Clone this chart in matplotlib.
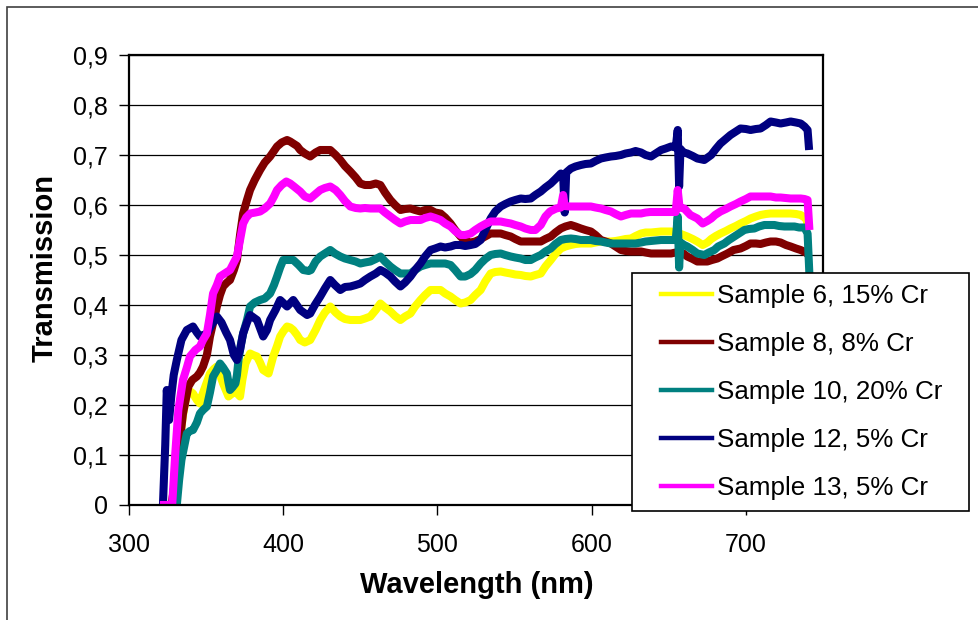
import matplotlib
matplotlib.use('Agg')
import matplotlib.pyplot as plt
from matplotlib.patches import Rectangle
from matplotlib.lines import Line2D
from matplotlib.ticker import FuncFormatter

plt.rcParams['font.family'] = ['Liberation Sans', 'DejaVu Sans']

# transmission spectra, wavelength in nm
wl_s6 = [320, 329, 331, 333, 335, 337, 338.5, 341.5, 344, 346, 347.5, 349.5, 351, 352.5, 355, 357, 359, 361, 363, 364.5,
         366.5, 369, 370.5, 372, 373.5, 375.5, 378.5, 380.5, 383, 385, 387, 390.5, 392, 393.5, 396, 398, 400, 402.5,
         404.5, 406.5, 409, 411, 414, 417.5, 421, 424, 427, 430.5, 434, 437, 440, 443.5, 447, 450, 453, 456.5, 460,
         463, 466, 469.5, 472.5, 476, 479, 482.5, 485.5, 489, 492, 495.5, 498.5, 502, 505, 508.5, 511.5, 515, 518,
         521.5, 524.5, 528, 531, 534.5, 537.5, 541, 544, 547.5, 550.5, 554, 557, 560.5, 563.5, 567, 570, 573.5, 576.5,
         580, 583, 586.5, 589.5, 593, 596, 599.5, 602.5, 606, 609, 612.5, 615.5, 619, 622, 625.5, 628.5, 632, 635,
         638.5, 641.5, 645, 648, 651.5, 654.5, 657, 659.5, 662, 665.5, 668.5, 672, 675, 677.5, 680.5, 683.5, 687, 690,
         693.5, 696.5, 700, 703, 706.5, 709.5, 713, 716, 719.5, 722.5, 726, 729, 732.5, 735.5, 738, 739.5, 740.5]
tr_s6 = [0, 0, 0.07, 0.13, 0.18, 0.215, 0.23, 0.223, 0.21, 0.203, 0.22, 0.237, 0.25, 0.263, 0.272, 0.277, 0.26, 0.243,
         0.228, 0.217, 0.222, 0.23, 0.222, 0.217, 0.25, 0.283, 0.303, 0.30, 0.297, 0.285, 0.27, 0.263, 0.28, 0.297,
         0.318, 0.337, 0.347, 0.357, 0.355, 0.35, 0.34, 0.33, 0.325, 0.33, 0.35, 0.37, 0.385, 0.397, 0.385, 0.377,
         0.372, 0.37, 0.37, 0.37, 0.373, 0.377, 0.39, 0.403, 0.395, 0.387, 0.378, 0.37, 0.377, 0.383, 0.397, 0.41,
         0.42, 0.43, 0.43, 0.43, 0.423, 0.417, 0.41, 0.403, 0.405, 0.41, 0.42, 0.43, 0.447, 0.463, 0.466, 0.467, 0.465,
         0.463, 0.461, 0.46, 0.458, 0.457, 0.46, 0.463, 0.477, 0.49, 0.502, 0.513, 0.517, 0.52, 0.522, 0.523, 0.523,
         0.523, 0.525, 0.527, 0.527, 0.527, 0.528, 0.53, 0.532, 0.533, 0.538, 0.543, 0.545, 0.545, 0.546, 0.547, 0.547,
         0.547, 0.545, 0.543, 0.54, 0.537, 0.532, 0.527, 0.52, 0.525, 0.532, 0.538, 0.543, 0.548, 0.553, 0.558, 0.563,
         0.568, 0.573, 0.577, 0.58, 0.582, 0.583, 0.583, 0.583, 0.583, 0.583, 0.582, 0.58, 0.575, 0.57, 0.55]

wl_s8 = [320, 327.5, 330, 332, 335, 338.5, 341, 344, 346, 348, 350.5, 352.5, 355, 357, 359, 361, 363.5, 365.5, 368,
         370, 372, 374, 376.5, 378.5, 381.5, 385, 388, 391.5, 394, 396, 399, 402.5, 404.5, 406.5, 409, 411, 414,
         417.5, 421, 424, 427, 430.5, 434, 437, 440, 443.5, 447, 450, 453, 456.5, 460, 463, 466, 469.5, 472.5, 476,
         479, 482.5, 485.5, 489, 492, 495.5, 498.5, 502, 505, 508.5, 511.5, 515, 518, 521.5, 524.5, 528, 531, 534.5,
         537.5, 541, 544, 547.5, 550.5, 554, 557, 560.5, 563.5, 567, 570, 573.5, 576.5, 580, 583, 586.5, 589.5, 593,
         596, 599.5, 602.5, 606, 609, 612.5, 615.5, 619, 622, 625.5, 628.5, 632, 635, 638.5, 641.5, 645, 648, 651.5,
         654.5, 656.5, 659.5, 662, 665.5, 668.5, 672, 675, 678, 681.5, 684, 688, 692, 696.5, 700, 703, 706.5, 709.5,
         713, 716, 719.5, 722.5, 726, 729, 732.5, 735.5, 739, 740.5]
tr_s8 = [0, 0, 0.05, 0.103, 0.183, 0.237, 0.25, 0.257, 0.265, 0.277, 0.30, 0.337, 0.37, 0.397, 0.42, 0.437, 0.445,
         0.45, 0.47, 0.49, 0.54, 0.583, 0.61, 0.63, 0.65, 0.67, 0.685, 0.697, 0.708, 0.717, 0.725, 0.73, 0.727, 0.723,
         0.718, 0.71, 0.703, 0.697, 0.705, 0.71, 0.71, 0.71, 0.70, 0.69, 0.678, 0.667, 0.655, 0.643, 0.64, 0.64, 0.643,
         0.64, 0.625, 0.61, 0.60, 0.59, 0.592, 0.593, 0.59, 0.587, 0.59, 0.59, 0.585, 0.583, 0.575, 0.563, 0.55, 0.537,
         0.528, 0.525, 0.527, 0.532, 0.537, 0.543, 0.543, 0.543, 0.54, 0.537, 0.532, 0.527, 0.527, 0.527, 0.527, 0.527,
         0.532, 0.537, 0.545, 0.553, 0.557, 0.56, 0.557, 0.553, 0.55, 0.547, 0.54, 0.53, 0.527, 0.523, 0.517, 0.51,
         0.508, 0.507, 0.507, 0.507, 0.505, 0.503, 0.503, 0.503, 0.503, 0.503, 0.505, 0.507, 0.503, 0.497, 0.492,
         0.487, 0.487, 0.487, 0.49, 0.493, 0.497, 0.503, 0.51, 0.513, 0.518, 0.523, 0.523, 0.522, 0.525, 0.527, 0.527,
         0.525, 0.52, 0.517, 0.513, 0.51, 0.505, 0.50]

wl_s10 = [320, 331, 332.5, 334, 336, 337.5, 339.5, 341.5, 344, 346, 348, 350.5, 352.5, 354.5, 357, 359, 361, 363.5,
          364.5, 365.5, 367, 369, 370, 371, 372.5, 374, 376.5, 378.5, 381.5, 385, 388, 391.5, 394, 396, 398, 400,
          403.5, 406.5, 410, 413, 416.5, 418, 421, 424, 427, 430.5, 433.5, 437, 440, 443.5, 447, 450, 453, 456.5, 460,
          463, 466, 469.5, 472.5, 476, 479, 482.5, 485.5, 489, 492, 495.5, 498.5, 502, 505, 508.5, 511.5, 515, 518,
          521.5, 524.5, 528, 531, 534.5, 537.5, 541, 544, 547.5, 550.5, 554, 557, 560.5, 563.5, 567, 570, 573.5,
          576.5, 580, 583, 586.5, 589.5, 593, 596, 599.5, 602.5, 606, 609, 612.5, 615.5, 619, 622, 625.5, 628.5, 632,
          635, 638.5, 641.5, 645, 648, 651.5, 654.5, 655.8, 656.7, 657.6, 660, 662, 665.5, 668.5, 673, 676, 679.5,
          682, 686, 689, 692.5, 695.5, 699, 702, 705.5, 708.5, 712, 715, 718.5, 721.5, 725, 728, 731.5, 734.5, 738,
          740, 741.2]
tr_s10 = [0, 0, 0.05, 0.09, 0.12, 0.143, 0.148, 0.15, 0.165, 0.183, 0.19, 0.197, 0.225, 0.257, 0.27, 0.283, 0.275,
          0.263, 0.245, 0.23, 0.235, 0.243, 0.26, 0.29, 0.32, 0.343, 0.37, 0.397, 0.405, 0.41, 0.413, 0.423, 0.44,
          0.457, 0.475, 0.49, 0.49, 0.49, 0.48, 0.47, 0.468, 0.47, 0.487, 0.497, 0.503, 0.51, 0.503, 0.497, 0.493,
          0.49, 0.487, 0.483, 0.485, 0.487, 0.492, 0.497, 0.487, 0.477, 0.47, 0.463, 0.463, 0.463, 0.47, 0.477, 0.48,
          0.483, 0.483, 0.483, 0.483, 0.48, 0.47, 0.457, 0.457, 0.462, 0.47, 0.483, 0.492, 0.50, 0.502, 0.503, 0.50,
          0.497, 0.495, 0.493, 0.49, 0.49, 0.495, 0.50, 0.507, 0.513, 0.522, 0.53, 0.532, 0.533, 0.532, 0.53, 0.53,
          0.53, 0.528, 0.527, 0.525, 0.523, 0.523, 0.523, 0.523, 0.523, 0.523, 0.525, 0.527, 0.528, 0.529, 0.53, 0.53,
          0.53, 0.53, 0.577, 0.475, 0.525, 0.52, 0.517, 0.51, 0.503, 0.50, 0.505, 0.51, 0.517, 0.523, 0.53, 0.537,
          0.543, 0.55, 0.552, 0.553, 0.557, 0.56, 0.56, 0.56, 0.558, 0.557, 0.557, 0.557, 0.555, 0.555, 0.543, 0.46]

wl_s12 = [320, 322, 323.5, 324.5, 326, 327.5, 329, 331, 332.5, 334, 337.5, 341.5, 344, 346, 350.5, 353.5, 357, 360,
          363, 365.5, 368, 370, 372, 374, 376.5, 378.5, 383, 387, 389.5, 391.5, 395, 398, 402.5, 406.5, 411, 415.5,
          417.5, 420.5, 424, 427, 430.5, 433.5, 437, 440, 443.5, 447, 450, 453, 456.5, 460, 463, 466, 469.5, 472.5,
          476, 479, 482.5, 485.5, 489, 492, 495.5, 498.5, 502, 505, 508.5, 511.5, 515, 518, 521.5, 524.5, 528, 531,
          534.5, 537.5, 541, 544, 547.5, 550.5, 554, 557, 560.5, 563.5, 567, 570, 573.5, 576.5, 580, 581.5, 582.5,
          583.5, 586.5, 589.5, 593, 596, 599.5, 602.5, 606, 609, 612.5, 615.5, 619, 622, 625.5, 628.5, 632, 635,
          638.5, 641.5, 645, 648, 651.5, 654.5, 655.8, 656.7, 657.6, 659.5, 662, 665.5, 668.5, 673, 677.5, 680.5,
          683.5, 687, 690, 693.5, 696.5, 700, 703, 706.5, 709.5, 713, 716, 719.5, 722.5, 726, 729, 732.5, 735.5, 738,
          740, 741]
tr_s12 = [0, 0, 0.12, 0.23, 0.17, 0.22, 0.26, 0.29, 0.31, 0.33, 0.35, 0.357, 0.345, 0.337, 0.343, 0.36, 0.377,
          0.365, 0.345, 0.33, 0.30, 0.29, 0.31, 0.343, 0.365, 0.38, 0.37, 0.337, 0.35, 0.37, 0.39, 0.41, 0.397, 0.41,
          0.39, 0.38, 0.383, 0.40, 0.417, 0.433, 0.45, 0.44, 0.43, 0.436, 0.437, 0.44, 0.443, 0.45, 0.457, 0.463,
          0.47, 0.465, 0.457, 0.447, 0.437, 0.445, 0.457, 0.47, 0.483, 0.497, 0.51, 0.513, 0.517, 0.515, 0.517, 0.52,
          0.52, 0.518, 0.52, 0.522, 0.53, 0.55, 0.573, 0.587, 0.597, 0.602, 0.607, 0.61, 0.613, 0.612, 0.613, 0.62,
          0.627, 0.635, 0.643, 0.652, 0.663, 0.66, 0.585, 0.665, 0.673, 0.677, 0.68, 0.682, 0.683, 0.688, 0.693,
          0.695, 0.697, 0.698, 0.70, 0.703, 0.705, 0.708, 0.705, 0.70, 0.697, 0.703, 0.71, 0.713, 0.717, 0.715, 0.75,
          0.637, 0.712, 0.705, 0.703, 0.698, 0.693, 0.69, 0.70, 0.712, 0.723, 0.732, 0.74, 0.747, 0.753, 0.752, 0.75,
          0.752, 0.753, 0.76, 0.767, 0.765, 0.763, 0.765, 0.767, 0.765, 0.763, 0.757, 0.75, 0.71]

wl_s13 = [320, 324, 328, 330, 332, 335, 337.5, 339.5, 343, 346, 348, 350.5, 352.5, 354.5, 357, 359, 362, 365.5, 368,
          370, 372, 374, 376, 378.5, 382, 385, 388, 391.5, 394, 396, 399, 402, 404.5, 407, 411, 414, 417.5, 421, 424,
          427, 430.5, 434, 437, 440, 443.5, 447, 450, 453, 456.5, 460, 463, 466, 469.5, 472.5, 476, 479, 482.5, 485.5,
          489, 492, 495.5, 498.5, 502, 505, 508.5, 511.5, 515, 518, 521.5, 524.5, 528, 531, 534.5, 537.5, 541, 544,
          547.5, 550.5, 554, 557, 560.5, 563.5, 567, 570, 573, 577, 580, 581.5, 582.5, 586, 589.5, 593, 596, 599.5,
          602.5, 606, 609, 612.5, 615.5, 619, 622, 625.5, 628.5, 632, 635, 638, 641, 645, 648, 651.5, 654.5, 655.8,
          657, 660, 664, 668.5, 672, 675, 677.5, 680, 683.5, 687, 690, 693.5, 696.5, 700, 703, 706.5, 709.5, 713, 716,
          719.5, 722.5, 726, 729, 732.5, 735.5, 738, 740, 741.2]
tr_s13 = [0, 0, 0, 0.103, 0.19, 0.25, 0.275, 0.297, 0.31, 0.317, 0.33, 0.343, 0.38, 0.423, 0.44, 0.457, 0.463, 0.47,
          0.485, 0.497, 0.53, 0.563, 0.575, 0.583, 0.585, 0.587, 0.593, 0.603, 0.617, 0.63, 0.64, 0.647, 0.643,
          0.637, 0.627, 0.617, 0.613, 0.622, 0.63, 0.634, 0.637, 0.63, 0.62, 0.608, 0.597, 0.594, 0.593, 0.594, 0.593,
          0.593, 0.593, 0.585, 0.577, 0.57, 0.563, 0.567, 0.57, 0.57, 0.57, 0.574, 0.577, 0.574, 0.57, 0.563, 0.557,
          0.548, 0.54, 0.54, 0.543, 0.55, 0.557, 0.562, 0.567, 0.567, 0.567, 0.565, 0.563, 0.56, 0.557, 0.553, 0.55,
          0.55, 0.56, 0.577, 0.587, 0.593, 0.595, 0.62, 0.598, 0.597, 0.597, 0.597, 0.597, 0.597, 0.595, 0.593, 0.59,
          0.587, 0.582, 0.577, 0.58, 0.583, 0.583, 0.583, 0.585, 0.586, 0.586, 0.586, 0.586, 0.586, 0.586, 0.63,
          0.595, 0.593, 0.58, 0.573, 0.563, 0.568, 0.573, 0.58, 0.587, 0.592, 0.597, 0.602, 0.607, 0.612, 0.617,
          0.617, 0.617, 0.617, 0.617, 0.615, 0.615, 0.614, 0.613, 0.613, 0.613, 0.612, 0.61, 0.55]

series = [
    (wl_s6, tr_s6, '#FFFF00', 'Sample 6, 15% Cr'),
    (wl_s8, tr_s8, '#800000', 'Sample 8, 8% Cr'),
    (wl_s10, tr_s10, '#008080', 'Sample 10, 20% Cr'),
    (wl_s12, tr_s12, '#000080', 'Sample 12, 5% Cr'),
    (wl_s13, tr_s13, '#FF00FF', 'Sample 13, 5% Cr'),
]

W, H = 979, 620
fig = plt.figure(figsize=(W / 100, H / 100), dpi=100)
ax = fig.add_axes([129 / W, 1 - 505 / H, 694 / W, 450 / H])

for wl, tr, col, name in series:
    ax.plot(wl, tr, color=col, lw=5.8, solid_joinstyle='round', solid_capstyle='butt')

ax.set_xlim(300, 750)
ax.set_ylim(0, 0.9)
ax.set_xticks([300, 400, 500, 600, 700])
ax.set_yticks([i / 10 for i in range(10)])
ax.yaxis.set_major_formatter(FuncFormatter(lambda v, p: '0' if v == 0 else f'{v:.1f}'.replace('.', ',')))
ax.grid(axis='y', color='black', lw=0.9)
ax.set_axisbelow(True)
ax.tick_params(axis='both', direction='out', length=7, width=1, labelsize=18, colors='black')
ax.tick_params(axis='y', pad=8)
ax.tick_params(axis='x', pad=13)
for sp in ax.spines.values():
    sp.set_linewidth(1.6)
    sp.set_color('black')

fig.text(477 / W, 1 - 593 / H, 'Wavelength (nm)', ha='center', va='baseline',
         fontsize=21, fontweight='bold')
fig.text(53 / W, 1 - 268 / H, 'Transmission', rotation=90, rotation_mode='anchor',
         ha='center', va='baseline', fontsize=21, fontweight='bold')

# chart area border
fig.add_artist(Rectangle((7 / W, -0.1), 1.2, 1 - 7 / H + 0.1, transform=fig.transFigure,
                         fill=False, edgecolor='#404040', lw=1.2))

# legend box sits over the plot area
fig.add_artist(Rectangle((632 / W, 1 - 511 / H), 337 / W, 238 / H, transform=fig.transFigure,
                         facecolor='white', edgecolor='black', lw=1.2, zorder=4))
handles = [Line2D([], [], color=c, lw=3.2) for _, _, c, _ in series]
leg = fig.legend(handles, [s[3] for s in series], loc='center left',
                 bbox_to_anchor=(661 / W, 1 - 392 / H), bbox_transform=fig.transFigure,
                 frameon=False, fontsize=18.7, handlelength=1.95, handletextpad=0.2,
                 labelspacing=0.92, borderpad=0, borderaxespad=0)
leg.set_zorder(5)

fig.savefig('out.png', dpi=100)
